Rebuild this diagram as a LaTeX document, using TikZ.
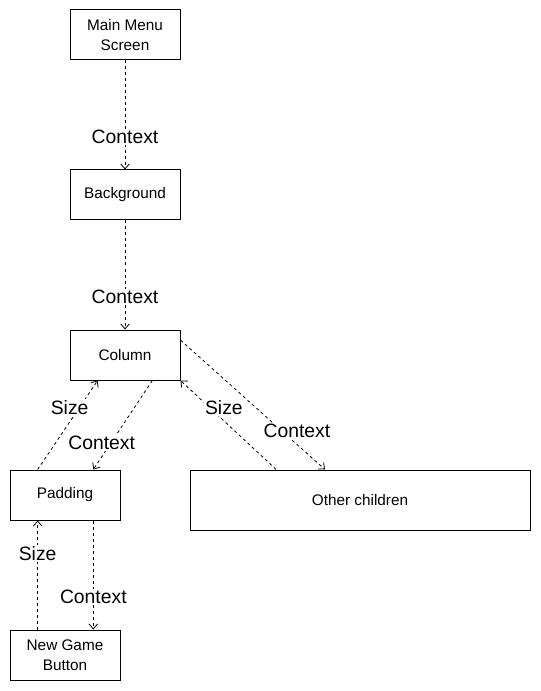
\documentclass[tikz,border=0pt]{standalone}
\usepackage{fontspec}
\setmainfont{Liberation Sans}
\usetikzlibrary{arrows.meta}

\begin{document}
\begin{tikzpicture}[
        x=0.75pt, y=-0.75pt,
        widget/.style={rectangle, draw, line width=0.75pt, minimum width=82.5pt,
            minimum height=37.5pt, align=center, font=\fontsize{11.5}{15}\selectfont},
        flow/.style={draw, line width=0.6pt, dash pattern=on 2.25pt off 2.25pt,
            -{Straight Barb[length=3.75pt,width=6.5pt]}},
        tag/.style={fill=white, inner sep=1pt, pos=0.7, font=\fontsize{14.5}{16}\selectfont}
    ]
        \useasboundingbox (0,0) rectangle (541,691);

        \node[widget] (menu) at (125,35) {Main Menu\\Screen};
        \node[widget] (bg) at (125,195) {Background};
        \node[widget] (col) at (125,355) {Column};
        \node[widget] (pad) at (65,495) {Padding};
        \node[widget, minimum width=255pt, minimum height=45pt] (other) at (360,500) {Other children};
        \node[widget] (btn) at (65,655) {New Game\\Button};

        \path[every edge/.style={flow}]
            (menu.south) edge node[tag] {Context} (bg.north)
            (bg.south) edge node[tag] {Context} (col.north)
            (pad.137) edge node[tag, xshift=-7.5pt] {Size} (col.223)
            (col.317) edge node[tag, xshift=-7pt] {Context} (pad.42)
            (other.160.6) edge node[tag, xshift=11pt] {Size} (col.south east)
            (col.15) edge node[tag, xshift=11.5pt] {Context} (other.139.4)
            (btn.137) edge node[tag] {Size} (pad.223)
            (pad.318) edge node[tag] {Context} (btn.42);
    \end{tikzpicture}
\end{document}
